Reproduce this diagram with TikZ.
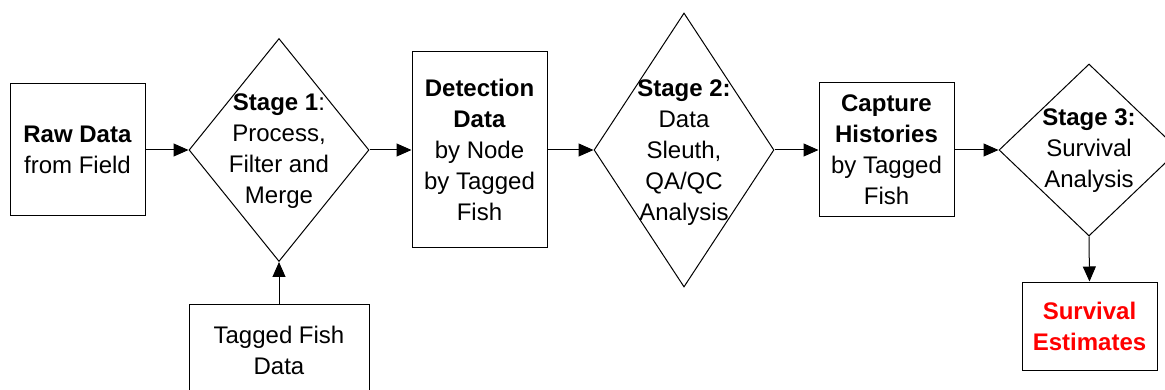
\documentclass[tikz,border=0pt]{standalone}
\usepackage{fontspec}
\setmainfont{Liberation Sans}
\usetikzlibrary{shapes.geometric,arrows.meta}
\begin{document}
\begin{tikzpicture}[x=1pt,y=-1pt,
  txt/.style={inner sep=0pt,align=center,font=\fontsize{24pt}{31pt}\selectfont},
  box/.style={txt,draw,line width=1pt,rectangle},
  dia/.style={draw,line width=1pt,diamond,inner sep=0pt,aspect=1},
  arr/.style={line width=1pt,-{Triangle[length=15pt,width=13pt]}}]
\clip (0,0) rectangle (1165,390);
\fill[white] (0,0) rectangle (1165,390);
% boxes
\node[box,minimum width=135pt,minimum height=132pt] (raw) at (77.5,150) {\textbf{Raw Data}\\from Field};
\node[box,minimum width=135pt,minimum height=196pt] (det) at (479.5,150) {\textbf{Detection}\\\textbf{Data}\\by Node\\by Tagged\\Fish};
\node[box,minimum width=135pt,minimum height=134pt] (cap) at (886.5,150) {\textbf{Capture}\\\textbf{Histories}\\by Tagged\\Fish};
\node[box,minimum width=135pt,minimum height=88pt,text=red] (est) at (1089.5,326) {\textbf{Survival}\\\textbf{Estimates}};
\node[box,minimum width=180pt,minimum height=92pt] (tag) at (279,350) {Tagged Fish\\Data};
% diamonds
\node[dia,minimum width=180pt,minimum height=223pt] (d1) at (279,150) {};
\node[dia,minimum width=180pt,minimum height=274pt] (d2) at (684,150) {};
\node[dia,minimum width=180pt,minimum height=172pt] (d3) at (1089,150) {};
\node[txt] (t1) at (279,151) {\textbf{Stage 1}:\\Process,\\Filter and\\Merge};
\node[txt] (t2) at (684,153) {\textbf{Stage 2:}\\Data\\Sleuth,\\QA/QC\\Analysis};
\node[txt] (t3) at (1089,151) {\textbf{Stage 3:}\\Survival\\Analysis};
% connectors
\draw[arr] (raw.east) -- (d1.west);
\draw[arr] (tag.north) -- (d1.south);
\draw[arr] (d1.east) -- (det.west);
\draw[arr] (det.east) -- (d2.west);
\draw[arr] (d2.east) -- (cap.west);
\draw[arr] (cap.east) -- (d3.west);
\draw[arr] (d3.south) -- (est.north);
\end{tikzpicture}
\end{document}
